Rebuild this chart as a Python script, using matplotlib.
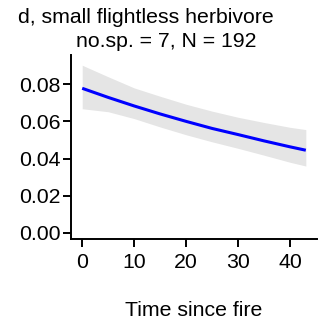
import matplotlib
matplotlib.use("Agg")
import matplotlib.pyplot as plt
import numpy as np

# fitted trend and confidence band, read at a handful of times
time_since_fire = [0, 5, 10, 15, 20, 25, 30, 35, 40, 43]
fit = [0.0778, 0.0729, 0.0683, 0.0640, 0.0600, 0.0562, 0.0529, 0.0495, 0.0463, 0.0445]
upper = [0.0902, 0.0840, 0.0780, 0.0735, 0.0692, 0.0655, 0.0622, 0.0594, 0.0568, 0.0556]
lower = [0.0668, 0.0652, 0.0615, 0.0570, 0.0528, 0.0490, 0.0455, 0.0418, 0.0380, 0.0360]

x_ticks = [0, 10, 20, 30, 40]
y_ticks = [0.00, 0.02, 0.04, 0.06, 0.08]

FS = 15.3
plt.rcParams['font.family'] = ['Liberation Sans', 'DejaVu Sans']

fig = plt.figure(figsize=(3.30, 3.28), dpi=100)
ax = fig.add_axes([0.2152, 0.2704, 0.7454, 0.5619])

ax.fill_between(time_since_fire, lower, upper, color='#e5e5e5', lw=0)
ax.plot(time_since_fire, fit, color='#0000ff', lw=2.2, solid_capstyle='butt')

ax.set_xlim(-2.15, 45.15)
ax.set_ylim(-0.0034, 0.0957)
ax.set_xticks(x_ticks)
ax.set_yticks(y_ticks)
ax.set_yticklabels([f'{v:.2f}' for v in y_ticks])

for side in ['top', 'right']:
    ax.spines[side].set_visible(False)
for side in ['left', 'bottom']:
    ax.spines[side].set_linewidth(1.4)
    ax.spines[side].set_color('black')

ax.tick_params(axis='both', width=1.4, length=6, color='black', labelsize=FS, labelcolor='black')
ax.tick_params(axis='y', pad=1.5)
ax.tick_params(axis='x', pad=3.6)

ax.set_xlabel('Time since fire', fontsize=FS, labelpad=21)

fig.text(18 / 330, 1 - 23 / 328, 'd, small flightless herbivore', fontsize=FS, ha='left', va='baseline')
fig.text(166 / 330, 1 - 47 / 328, 'no.sp. = 7, N = 192', fontsize=FS, ha='center', va='baseline')

fig.savefig('out.png', dpi=100)
